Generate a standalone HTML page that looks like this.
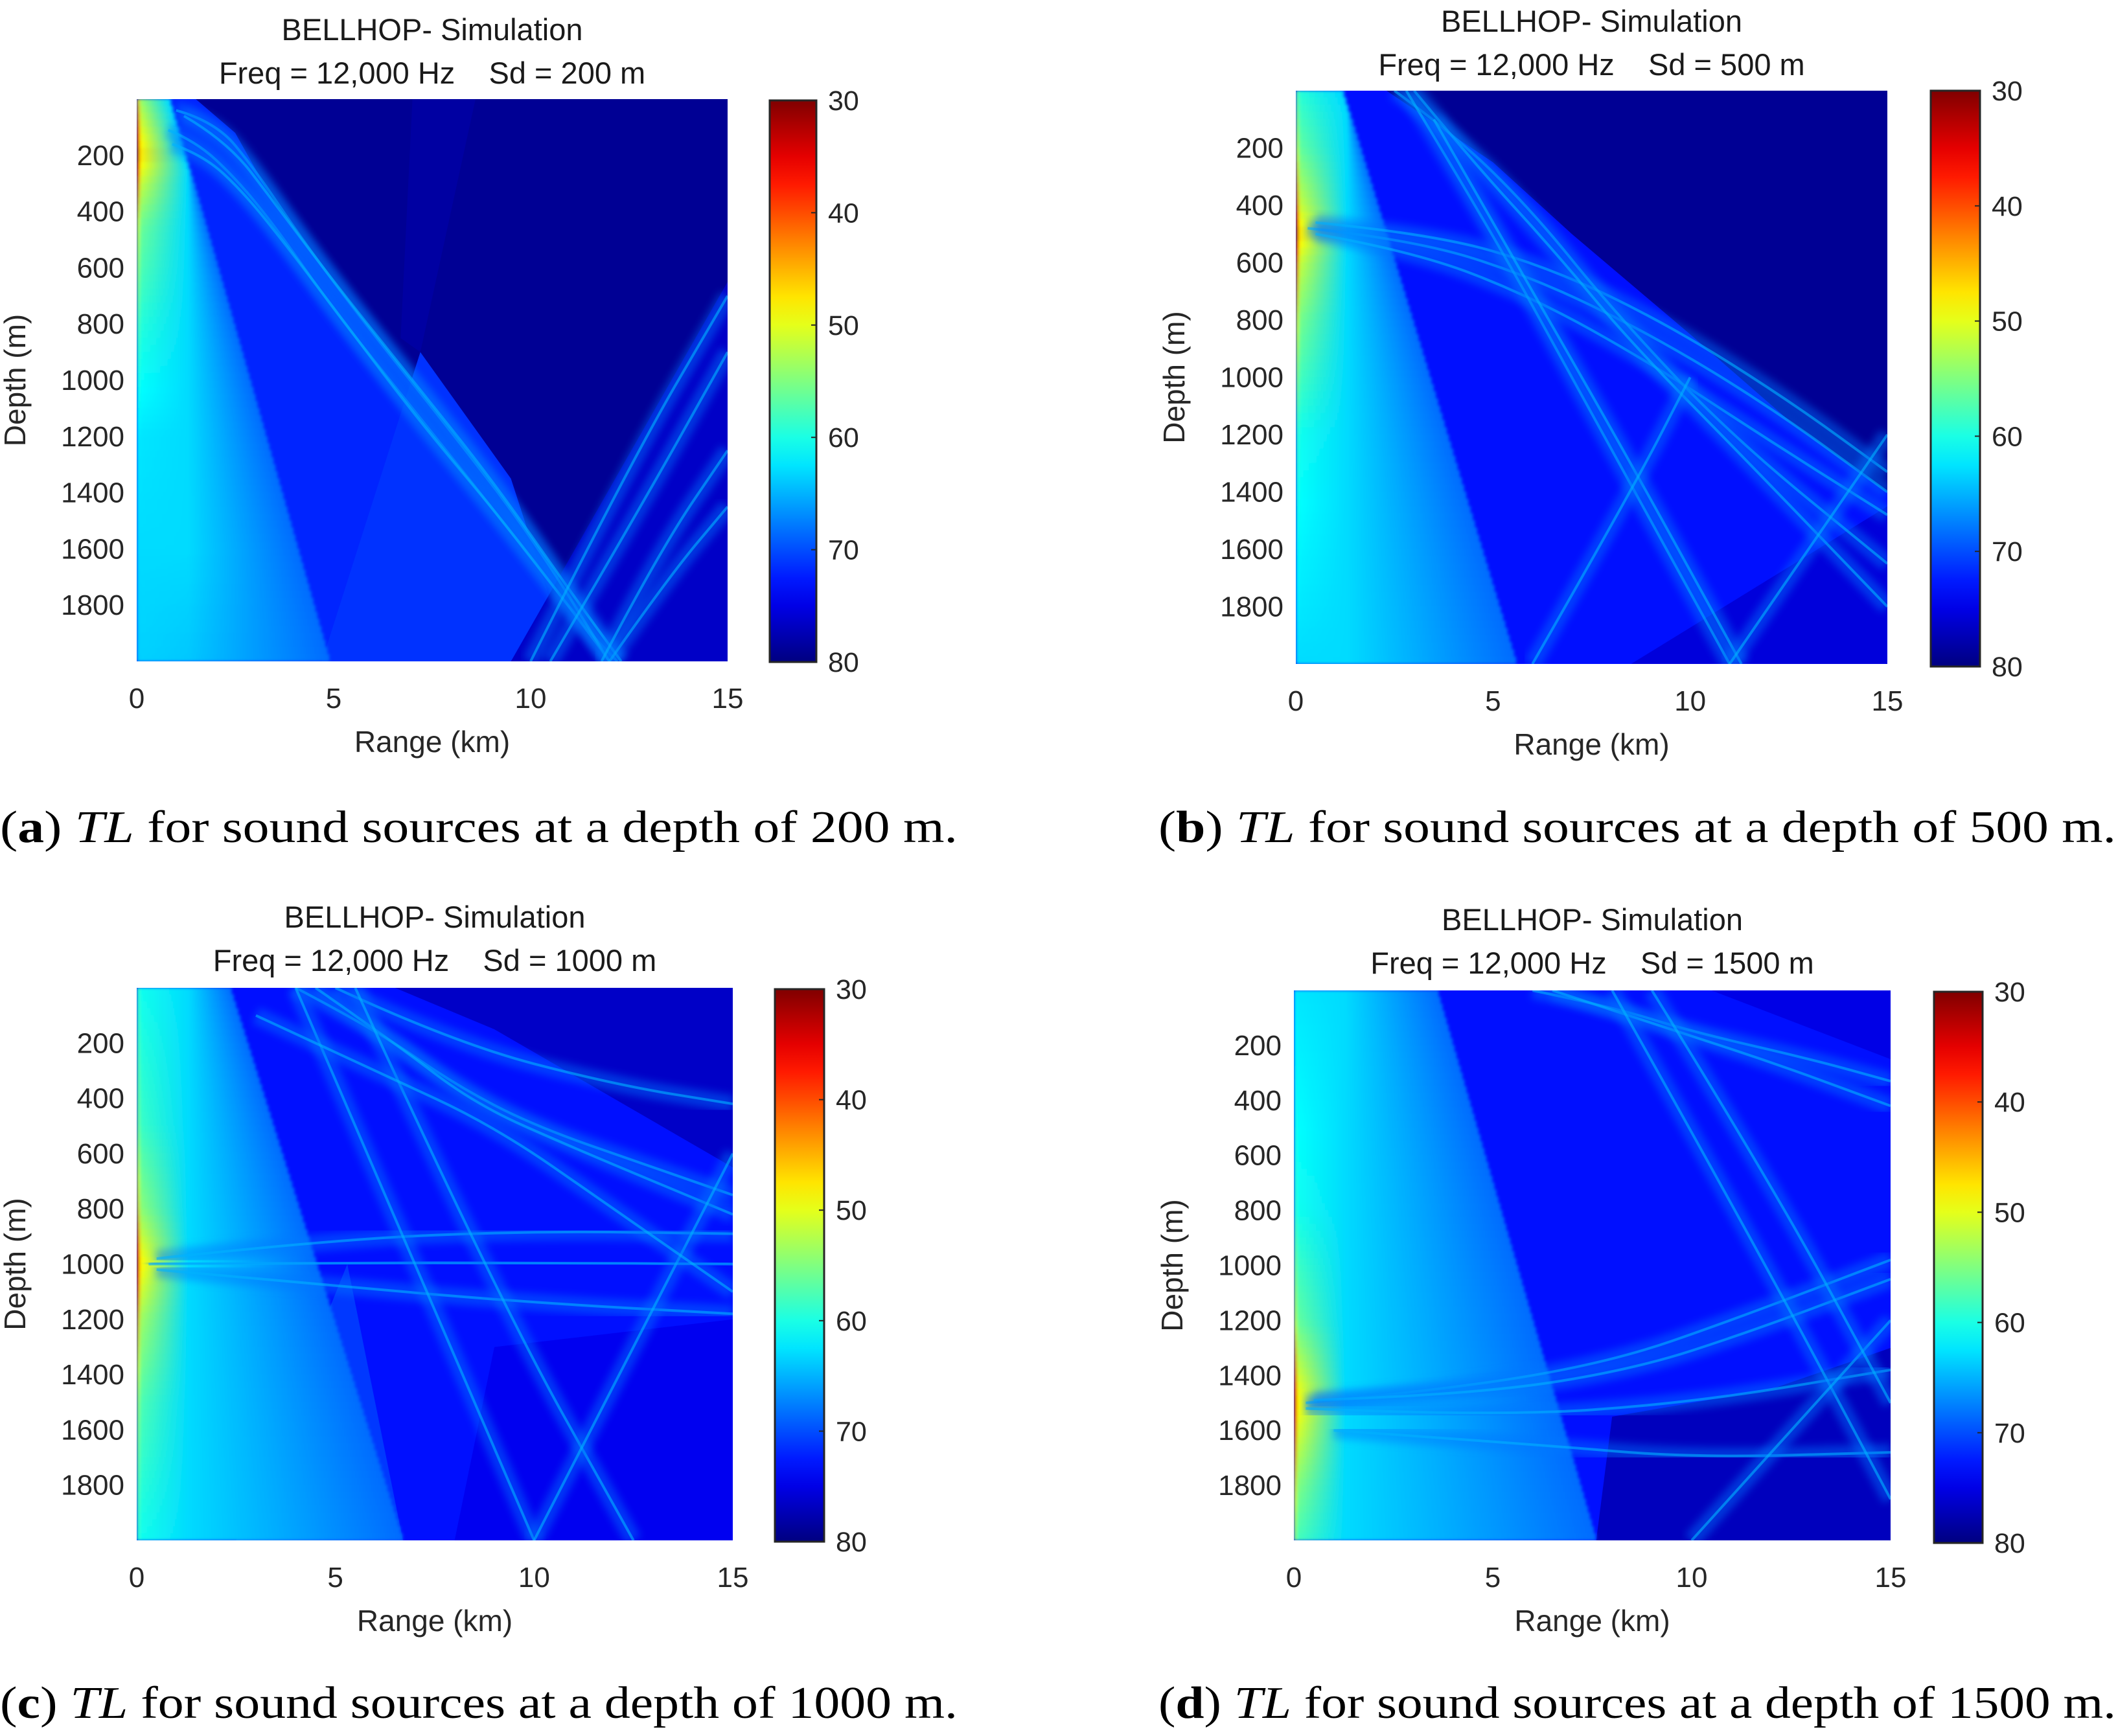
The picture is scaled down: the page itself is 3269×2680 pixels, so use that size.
<!DOCTYPE html>
<html><head><meta charset="utf-8"><style>
html,body{margin:0;padding:0;background:#fff;}
svg{display:block;}
.pre{white-space:pre;}
</style></head><body>
<svg id="fig" xmlns="http://www.w3.org/2000/svg" width="3269" height="2680" viewBox="0 0 3269 2680">
<defs>
<filter id="soft" x="-5%" y="-5%" width="110%" height="110%"><feGaussianBlur stdDeviation="2.5"/></filter>
<filter id="soft2" x="-5%" y="-5%" width="110%" height="110%"><feGaussianBlur stdDeviation="6"/></filter>
</defs>
</svg>
<script>
// ---- data ----
const depthTicks = [200,400,600,800,1000,1200,1400,1600,1800];
const rangeTicks = [0,5,10,15];
const cbarTicks = [30,40,50,60,70,80];
const sourceDepths = [200,500,1000,1500];
const panelLetters = ['a','b','c','d'];
// left-edge TL profiles [depth, TL dB]
const profileA = [[0,45],[100,38],[200,32],[300,40],[450,49],[800,56],[1200,62],[2000,64]];
const profileB = [[0,56],[200,50],[400,40],[500,32],[600,40],[800,48],[1200,58],[2000,63]];
const profileC = [[0,58],[500,54],[800,46],[1000,34],[1200,44],[1500,52],[2000,58]];
const profileD = [[0,62],[800,58],[1200,50],[1500,34],[1800,47],[2000,53]];
// wedge boundary lines [[r0,d0],[r1,d1]]
const wedgeA = [[0.85,0],[4.9,2000]];
const wedgeB = [[1.2,0],[5.6,2000]];
const wedgeC = [[2.35,0],[6.7,2000]];
const wedgeD = [[3.6,0],[7.6,2000]];
// region polygons [TL, points]
const regionsA = [[79,[[0,0],[15,0],[15,2000],[0,2000]]],
  [72,[[0,0],[1.5,0],[2.5,120],[3.5,370],[5,650],[7,1000],[9,1350],[11,1750],[12.3,2000],[0,2000]]],
  [71.3,[[4.7,2000],[7.2,900],[9.5,1350],[11,2000]]],
  [76.5,[[9.5,2000],[15,650],[15,2000]]],
  [78.3,[[7,0],[8.6,0],[7.2,900],[6.7,850]]]];
const regionsB = [[73,[[0,0],[15,0],[15,2000],[0,2000]]],
  [79,[[2.3,0],[15,0],[15,1400],[12.5,1150],[10,850],[7,500],[5,250]]],
  [75.5,[[8.5,2000],[15,1450],[15,2000]]]];
const regionsC = [[73,[[0,0],[15,0],[15,2000],[0,2000]]],
  [76.5,[[6.5,0],[15,0],[15,650],[12,400],[9,150]]],
  [74.5,[[8,2000],[9,1300],[15,1200],[15,2000]]],
  [71,[[2.5,2000],[5.3,1000],[6.7,2000]]]];
const regionsD = [[73,[[0,0],[15,0],[15,2000],[0,2000]]],
  [77,[[8,1550],[12,1450],[15,1300],[15,2000],[7.6,2000]]],
  [75,[[10.5,0],[15,0],[15,250]]]];
// ray bundles [r km, depth m]
const raysA = [
  [[0.8,110],[1.5,150],[2.5,280],[3.5,450],[5,750],[7,1100],[9,1450],[11.5,1900],[12.2,2000]],
  [[0.9,160],[1.7,200],[2.7,330],[3.8,520],[5.3,800],[7.2,1150],[9.3,1500],[11.6,1920],[12,2000]],
  [[1.0,40],[2,80],[3,250],[4.2,500],[5.8,800],[7.8,1150],[10,1550],[12,2000]],
  [[1.2,60],[2.3,150],[3.5,370],[5,650],[7,1000],[9,1350],[11,1750],[12.3,2000]],
  [[12,2000],[13.5,1700],[15,1450]],
  [[11.8,2000],[13.3,1600],[15,1250]],
  [[10,2000],[12.5,1300],[15,700]],
  [[10.5,2000],[12.8,1450],[15,900]]];
const raysB = [
  [[0.3,480],[3,520],[6,650],[9,850],[12,1100],[15,1400]],
  [[0.5,460],[3.5,500],[6.5,620],[9.5,820],[12.5,1080],[15,1330]],
  [[0.5,500],[3,560],[6,720],[9,950],[12,1220],[15,1480]],
  [[2.5,0],[4,150],[6,420],[8,760],[11,1200],[15,1650]],
  [[3,0],[4.5,250],[6.5,550],[8.5,880],[11.5,1300],[15,1800]],
  [[2.8,0],[5,500],[7,1000],[9,1500],[11,2000]],
  [[3.5,100],[6,700],[8.5,1300],[11.3,2000]],
  [[11,2000],[13,1600],[15,1200]],
  [[6,2000],[8.5,1400],[10,1000]]];
const raysC = [
  [[0.3,1000],[5,995],[10,995],[15,1000]],
  [[0.5,980],[5,910],[10,880],[15,890]],
  [[0.5,1020],[5,1080],[10,1140],[15,1180]],
  [[4,0],[6,150],[8,350],[10,500],[13,650],[15,750]],
  [[4.5,0],[6.5,200],[8.5,420],[11,580],[15,820]],
  [[5,0],[8,200],[12,350],[15,420]],
  [[4,0],[7,1000],[10,2000]],
  [[5.5,0],[9,1100],[12.5,2000]],
  [[10,2000],[12.5,1300],[15,600]],
  [[3,100],[6,300],[9,500],[12,800],[15,1100]]];
const raysD = [
  [[0.3,1500],[4,1450],[8,1350],[11,1200],[15,980]],
  [[0.5,1490],[4.5,1470],[8.5,1380],[11.5,1240],[15,1050]],
  [[0.3,1520],[5,1550],[10,1500],[15,1380]],
  [[1,1600],[6,1650],[10,1700],[15,1680]],
  [[6,0],[8,60],[10,150],[13,250],[15,330]],
  [[6.5,0],[9,120],[12,260],[15,420]],
  [[8,0],[11.5,900],[15,1850]],
  [[10,2000],[12.5,1600],[15,1200]],
  [[9,0],[12,700],[15,1500]]];
// ---- layout ----
const panels = [
  {plot:[211,153,1123,1021], cbar:[1188,155,1260,1022], t1:46, t2:113, cap:[0,1300], prof:profileA, wedge:wedgeA, regions:regionsA, rays:raysA},
  {plot:[2000,140,2913,1025], cbar:[2980,140,3056,1029], t1:33, t2:100, cap:[1788,1300], prof:profileB, wedge:wedgeB, regions:regionsB, rays:raysB},
  {plot:[211,1525,1131,2378], cbar:[1196,1527,1272,2380], t1:1416, t2:1483, cap:[0,2652], prof:profileC, wedge:wedgeC, regions:regionsC, rays:raysC},
  {plot:[1997,1529,2918,2378], cbar:[2985,1531,3060,2382], t1:1420, t2:1487, cap:[1788,2652], prof:profileD, wedge:wedgeD, regions:regionsD, rays:raysD}
];
const NS='http://www.w3.org/2000/svg';
const svg=document.getElementById('fig');
const defs=svg.querySelector('defs');
function mk(tag,attrs,parent){const e=document.createElementNS(NS,tag);for(const k in attrs)e.setAttribute(k,attrs[k]);(parent||svg).appendChild(e);return e;}
function clamp(v){return Math.max(0,Math.min(1,v));}
function jet(tl){const t=clamp((80-tl)/50);const r=clamp(1.5-Math.abs(4*t-3)),g=clamp(1.5-Math.abs(4*t-2)),b=clamp(1.5-Math.abs(4*t-1));return `rgb(${Math.round(r*255)},${Math.round(g*255)},${Math.round(b*255)})`;}
function interp(prof,d){for(let i=1;i<prof.length;i++){if(d<=prof[i][0]){const a=prof[i-1],b=prof[i];return a[1]+(b[1]-a[1])*(d-a[0])/(b[0]-a[0]);}}return prof[prof.length-1][1];}
const font='"Liberation Sans", Arial, sans-serif';
panels.forEach((p,pi)=>{
  const [x0,y0,x1,y1]=p.plot;
  const X=r=>x0+(x1-x0)*r/15, Y=d=>y0+(y1-y0)*d/2000;
  const g=mk('g',{});
  
  
  const cid='clip'+pi;
  const cp=mk('clipPath',{id:cid},defs); mk('rect',{x:x0,y:y0,width:x1-x0,height:y1-y0},cp);
  const hm=mk('g',{'clip-path':`url(#${cid})`},g);
  
  
  p.regions.forEach(([tl,pts])=>{
    const e=mk('polygon',{points:pts.map(q=>X(q[0])+','+Y(q[1])).join(' '),fill:jet(tl)},hm);
    
    
  });
  const nf=mk('g',{filter:'url(#soft)'},hm);
  
  
  const step=25;
  const [[wr0,wd0],[wr1,wd1]]=p.wedge;
  for(let d=0;d<2000;d+=step){
    const dm=d+step/2;
    const left=interp(p.prof,dm);
    const wr=wr0+(wr1-wr0)*(dm-wd0)/(wd1-wd0);
    const gid=`nf${pi}_${d}`;
    const lg=mk('linearGradient',{id:gid,gradientUnits:'userSpaceOnUse',x1:X(0),y1:0,x2:X(wr),y2:0},defs);
    const f1=Math.min(0.9,0.35/wr), f2=Math.min(0.95,1.3/wr);
    mk('stop',{offset:0,'stop-color':jet(left)},lg);
    mk('stop',{offset:f1*0.3,'stop-color':jet(left+(63-left)*0.5)},lg);
    mk('stop',{offset:f2,'stop-color':jet(Math.min(64,Math.max(left,63)))},lg);
    mk('stop',{offset:1,'stop-color':jet(68.5)},lg);
    mk('rect',{x:X(0),y:Y(d)-0.5,width:X(wr)-X(0)+1,height:Y(d+step)-Y(d)+1,fill:`url(#${gid})`},nf);
  }
  const rg=mk('g',{fill:'none'},hm);
  
  
  p.rays.forEach(ray=>{
    const pts=ray.map(q=>[X(q[0]),Y(q[1])]);
    let dstr='M'+pts[0][0]+','+pts[0][1];
    for(let i=1;i<pts.length-1;i++){const mx=(pts[i][0]+pts[i+1][0])/2,my=(pts[i][1]+pts[i+1][1])/2;dstr+=` Q${pts[i][0]},${pts[i][1]} ${mx},${my}`;}
    dstr+=` L${pts[pts.length-1][0]},${pts[pts.length-1][1]}`;
    const glow=mk('path',{d:dstr,stroke:jet(68),'stroke-width':26,'stroke-opacity':0.45,filter:'url(#soft2)'},rg);
    
    
    const core=mk('path',{d:dstr,stroke:jet(65),'stroke-width':4,'stroke-opacity':0.6},rg);
    
    
  });
  depthTicks.forEach(v=>{
    const t=mk('text',{x:x0-19,y:Y(v)+15,'text-anchor':'end','font-family':font,'font-size':44,fill:'#262626'},g);
    t.textContent=v;
    
    
  });
  rangeTicks.forEach(v=>{
    const t=mk('text',{x:X(v),y:y1+72,'text-anchor':'middle','font-family':font,'font-size':44,fill:'#262626'},g);
    t.textContent=v;
    
    
  });
  const xl=mk('text',{x:(x0+x1)/2,y:y1+140,'text-anchor':'middle','font-family':font,'font-size':46,fill:'#262626'},g);
  xl.textContent='Range (km)';
  
  
  const yc=(y0+y1)/2, yx=x0-172;
  const yl=mk('text',{x:yx,y:yc,'text-anchor':'middle','font-family':font,'font-size':46,fill:'#262626',transform:`rotate(-90 ${yx} ${yc})`},g);
  yl.textContent='Depth (m)';
  
  
  const cx=(x0+x1)/2;
  const t1=mk('text',{x:cx,y:p.t1+16,'text-anchor':'middle','font-family':font,'font-size':47,fill:'#1a1a1a'},g);
  t1.textContent='BELLHOP- Simulation';
  
  
  const t2=mk('text',{x:cx,y:p.t2+16,'text-anchor':'middle','font-family':font,'font-size':47,fill:'#1a1a1a','class':'pre'},g);
  t2.textContent='Freq = 12,000 Hz    Sd = '+sourceDepths[pi]+' m';
  
  
  const [cx0,cy0,cx1,cy1]=p.cbar;
  const gid='cb'+pi;
  const lg=mk('linearGradient',{id:gid,x1:0,y1:0,x2:0,y2:1},defs);
  for(let i=0;i<=20;i++){mk('stop',{offset:i/20,'stop-color':jet(30+50*i/20)},lg);}
  const cb=mk('rect',{x:cx0,y:cy0,width:cx1-cx0,height:cy1-cy0,fill:`url(#${gid})`,stroke:'#262626','stroke-width':3},g);
  
  
  cbarTicks.forEach(v=>{
    const yy=cy0+(cy1-cy0)*(v-30)/50;
    mk('line',{x1:cx1-8,x2:cx1,y1:yy,y2:yy,stroke:'#262626','stroke-width':2},g);
    const t=mk('text',{x:cx1+18,y:yy+15,'font-family':font,'font-size':43,fill:'#262626'},g);
    t.textContent=v;
    
    
  });
  const cap=mk('text',{x:p.cap[0],y:p.cap[1],'font-family':'"Liberation Serif", serif','font-size':70,fill:'#000',textLength:1478,lengthAdjust:'spacingAndGlyphs'},g);
  
  
  cap.innerHTML=`(<tspan font-weight="bold">${panelLetters[pi]}</tspan>) <tspan font-style="italic">TL</tspan> for sound sources at a depth of ${sourceDepths[pi]} m.`;
});
</script>
</body></html>
